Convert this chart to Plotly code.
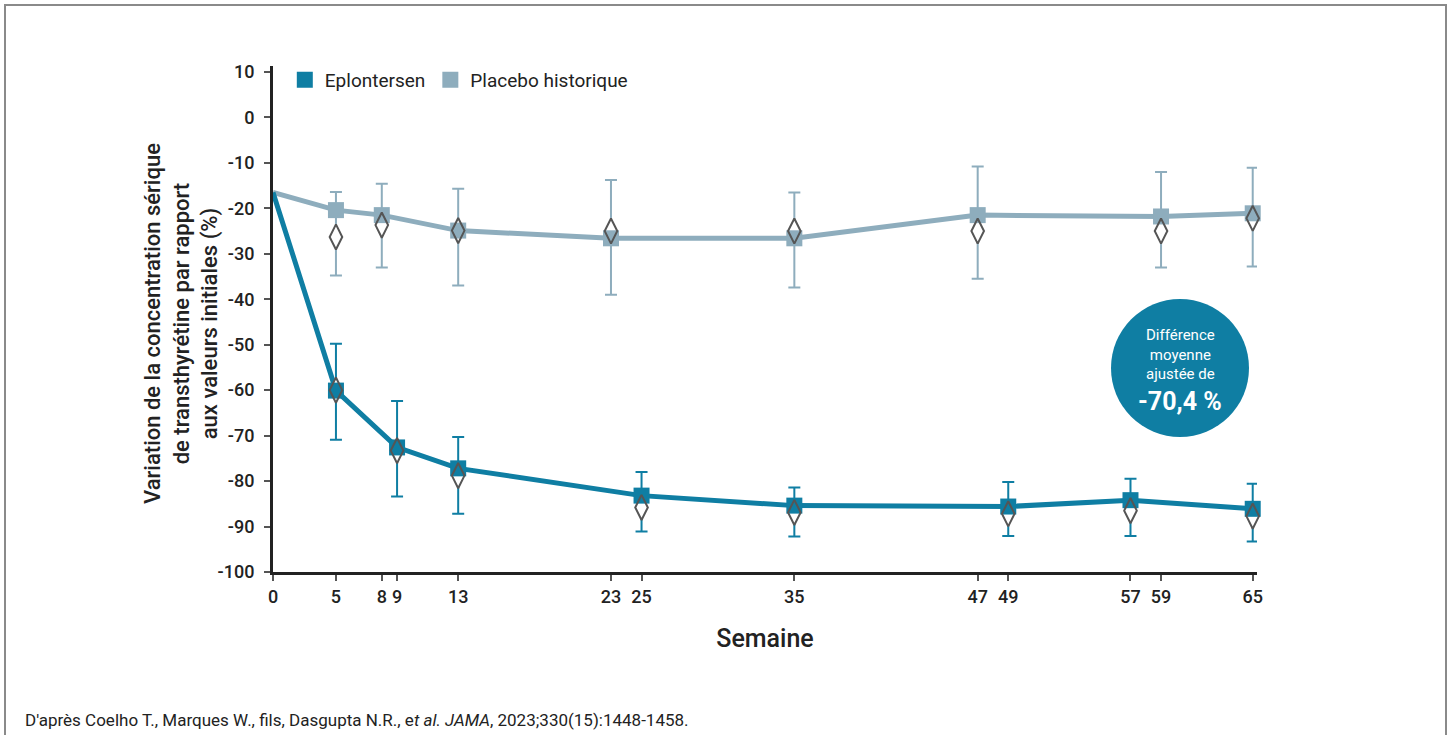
import plotly.graph_objects as go

# ---------------- data ----------------
weeks_placebo = [0, 5, 8, 13, 23, 35, 47, 59, 65]
placebo_mean = [-16.5, -20.4, -21.5, -24.9, -26.6, -26.6, -21.5, -21.8, -21.1]
placebo_diamond = [None, -26.3, -23.7, -24.9, -25.0, -25.0, -25.0, -25.0, -22.2]
placebo_ci_low = [None, -34.8, -33.0, -37.0, -39.0, -37.4, -35.5, -33.0, -32.8]
placebo_ci_high = [None, -16.4, -14.6, -15.7, -13.8, -16.5, -10.8, -12.0, -11.1]

weeks_eplo = [0, 5, 9, 13, 25, 35, 49, 57, 65]
eplo_mean = [-16.5, -60.1, -72.6, -77.2, -83.2, -85.4, -85.6, -84.2, -86.1]
eplo_diamond = [None, -60.0, -73.3, -78.8, -85.8, -86.9, -87.2, -86.5, -87.7]
eplo_ci_low = [None, -70.9, -83.4, -87.2, -91.1, -92.2, -92.1, -92.1, -93.3]
eplo_ci_high = [None, -49.8, -62.4, -70.3, -78.0, -81.4, -80.2, -79.5, -80.6]

tick_weeks = [0, 5, 8, 9, 13, 23, 25, 35, 47, 49, 57, 59, 65]
y_ticks = [10, 0, -10, -20, -30, -40, -50, -60, -70, -80, -90, -100]

series_names = ["Eplontersen", "Placebo historique"]
y_title_lines = ["Variation de la concentration sérique",
                 "de transthyrétine par rapport",
                 "aux valeurs initiales (%)"]
x_title = "Semaine"
annot_lines = ["Différence", "moyenne", "ajustée de"]
annot_value = "-70,4 %"
source_text = ("D'après Coelho T., Marques W., fils, Dasgupta N.R., e<i>t al. JAMA</i>, "
               "2023;330(15):1448-1458.")

# ---------------- style ----------------
C_EPLO = "#0F7EA3"
C_PLAC = "#8EADBD"
C_DIAM = "#555555"
C_TEXT = "#222222"
FONT = "Roboto"
X_START = 0.88   # week-0 baseline is drawn at the y-axis
X_END = 65.28

# plot-area pixel geometry
PL, PR, PT, PB = 273, 1257, 66, 572
PW, PH = PR - PL, PB - PT


def px(x):
    return (x - PL) / PW


def py(y):
    return (PB - y) / PH


def xpos(ws):
    return [max(w, X_START) for w in ws]


def err(center, lo, hi):
    up = [None if c is None else h - c for c, h in zip(center, hi)]
    dn = [None if c is None else c - l for c, l in zip(center, lo)]
    return up, dn


fig = go.Figure()

# lines
for ws, ys, col in [(weeks_placebo, placebo_mean, C_PLAC), (weeks_eplo, eplo_mean, C_EPLO)]:
    fig.add_trace(go.Scatter(x=xpos(ws), y=ys, mode="lines",
                             line=dict(color=col, width=5), showlegend=False,
                             hoverinfo="skip", cliponaxis=False))

# white-filled diamonds carrying the error bars
for ws, dia, lo, hi, col in [(weeks_placebo, placebo_diamond, placebo_ci_low, placebo_ci_high, C_PLAC),
                             (weeks_eplo, eplo_diamond, eplo_ci_low, eplo_ci_high, C_EPLO)]:
    up, dn = err(dia, lo, hi)
    fig.add_trace(go.Scatter(x=xpos(ws), y=dia, mode="markers",
                             marker=dict(symbol="diamond-tall", size=18, color="white",
                                         line=dict(width=0)),
                             error_y=dict(type="data", symmetric=False, array=up, arrayminus=dn,
                                          color=col, thickness=2, width=6),
                             showlegend=False, hoverinfo="skip", cliponaxis=False))

# squares (legend entries)
for ws, ys, col, name in [(weeks_eplo, eplo_mean, C_EPLO, series_names[0]),
                          (weeks_placebo, placebo_mean, C_PLAC, series_names[1])]:
    fig.add_trace(go.Scatter(x=xpos(ws)[1:], y=ys[1:], mode="markers", name=name,
                             marker=dict(symbol="square", size=16, color=col, line=dict(width=0)),
                             cliponaxis=False))

# diamond outlines on top
for ws, dia in [(weeks_placebo, placebo_diamond), (weeks_eplo, eplo_diamond)]:
    fig.add_trace(go.Scatter(x=xpos(ws), y=dia, mode="markers",
                             marker=dict(symbol="diamond-tall-open", size=18, color=C_DIAM,
                                         line=dict(width=2, color=C_DIAM)),
                             showlegend=False, hoverinfo="skip", cliponaxis=False))

tickvals = xpos(tick_weeks)
ticktext = [str(w) for w in tick_weeks]

fig.update_layout(
    width=1448, height=735,
    margin=dict(l=PL, r=1448 - PR, t=PT, b=735 - PB, autoexpand=False),
    paper_bgcolor="white", plot_bgcolor="white",
    font=dict(family=FONT, color=C_TEXT),
    showlegend=True,
    legend=dict(orientation="h", x=0.012, xanchor="left", y=1.01, yanchor="top",
                font=dict(size=19, family=FONT, color=C_TEXT), tracegroupgap=0,
                bgcolor="rgba(0,0,0,0)", itemclick=False, itemdoubleclick=False),
    xaxis=dict(range=[X_START, X_END], tickmode="array", tickvals=tickvals, ticktext=ticktext,
               showgrid=False, zeroline=False, showline=True, linecolor=C_TEXT, linewidth=3,
               ticks="outside", ticklen=6, tickwidth=1.5, tickcolor="#555555",
               tickfont=dict(size=18, family=FONT, color=C_TEXT, weight=500),
               title=dict(text=x_title, font=dict(size=25, family=FONT, color=C_TEXT, weight=500),
                          standoff=24)),
    yaxis=dict(range=[-100, 11.3], tickmode="array", tickvals=y_ticks,
               ticktext=[str(v) for v in y_ticks],
               showgrid=False, zeroline=False, showline=True, linecolor=C_TEXT, linewidth=3,
               ticks="outside", ticklen=6, tickwidth=1.5, tickcolor="#555555",
               ticklabelstandoff=6,
               tickfont=dict(size=18, family=FONT, color=C_TEXT, weight=500)),
)

# y-axis title (three centred lines)
fig.add_annotation(xref="paper", yref="paper", x=px(182), y=py(324),
                   xanchor="center", yanchor="middle", textangle=-90,
                   text="<br>".join(y_title_lines), showarrow=False, align="center",
                   font=dict(size=22, family=FONT, color=C_TEXT, weight=500))

# frame
fig.add_shape(type="rect", xref="paper", yref="paper",
              x0=px(5), x1=px(1446), y0=py(760), y1=py(5),
              line=dict(color="#8a8a8a", width=2), fillcolor="rgba(0,0,0,0)", layer="below")

# circle callout
cx, cy, r = 1180, 368, 69
fig.add_shape(type="circle", xref="paper", yref="paper",
              x0=px(cx - r), x1=px(cx + r), y0=py(cy + r), y1=py(cy - r),
              line=dict(width=0), fillcolor=C_EPLO, layer="above")
fig.add_annotation(xref="paper", yref="paper", x=px(cx), y=py(354),
                   xanchor="center", yanchor="middle",
                   text="<br>".join(annot_lines), showarrow=False,
                   font=dict(size=15, family=FONT, color="white"), align="center")
fig.add_annotation(xref="paper", yref="paper", x=px(cx), y=py(402),
                   xanchor="center", yanchor="middle",
                   text="<b>" + annot_value + "</b>", showarrow=False,
                   font=dict(size=25, family=FONT, color="white"), align="center")

# source
fig.add_annotation(xref="paper", yref="paper", x=px(23), y=py(720),
                   xanchor="left", yanchor="middle", text=source_text, showarrow=False,
                   font=dict(size=17, family=FONT, color=C_TEXT))

fig.write_html("out.html", config={"displayModeBar": False},
               post_script="document.body.style.margin='0';")
